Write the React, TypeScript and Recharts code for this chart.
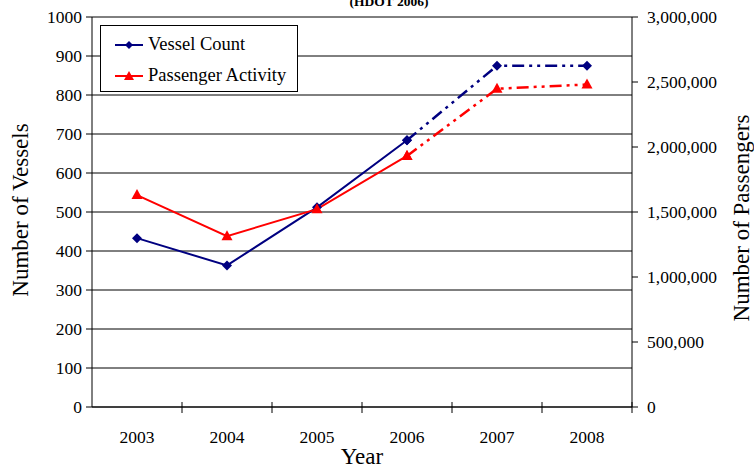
import { LineChart, Line, XAxis, YAxis, CartesianGrid } from "recharts";

const years = ["2003", "2004", "2005", "2006", "2007", "2008"];
const vesselCount = [433, 363, 512, 684, 875, 875];
const passengerActivity = [1630000, 1314000, 1522000, 1931000, 2448000, 2481000];
// last year with actual counts, later years are projections (dashed)
const lastActualYear = "2006";

const vesselTicks = [0, 100, 200, 300, 400, 500, 600, 700, 800, 900, 1000];
const passengerTicks = [0, 500000, 1000000, 1500000, 2000000, 2500000, 3000000];

const FONT = '"Liberation Serif", "Times New Roman", Times, serif';
const NAVY = "#000080";
const RED = "#FF0000";
const DASH = "12 5 3 5 3 5";

const W = 754;
const H = 468;
const TOP = 17;
const LEFT_W = 92;
const RIGHT_W = 122;
const X_H = 61;
const PLOT_BOTTOM = H - X_H;
const BAND = (W - LEFT_W - RIGHT_W) / years.length;

const lastIdx = years.indexOf(lastActualYear);
const chartData = years.map((year, i) => ({
  year,
  vessel: i <= lastIdx ? vesselCount[i] : null,
  vesselProj: i >= lastIdx ? vesselCount[i] : null,
  passenger: i <= lastIdx ? passengerActivity[i] : null,
  passengerProj: i >= lastIdx ? passengerActivity[i] : null,
}));

const legendItems = [
  { name: "Vessel Count", color: NAVY, marker: "diamond" },
  { name: "Passenger Activity", color: RED, marker: "triangle" },
];

function Diamond({ cx, cy }: any) {
  if (cx == null || cy == null) return null;
  return <path d={`M${cx} ${cy - 5}L${cx + 5} ${cy}L${cx} ${cy + 5}L${cx - 5} ${cy}Z`} fill={NAVY} />;
}

function Triangle({ cx, cy }: any) {
  if (cx == null || cy == null) return null;
  return <path d={`M${cx} ${cy - 6}L${cx + 5.5} ${cy + 4}L${cx - 5.5} ${cy + 4}Z`} fill={RED} />;
}

function YearTick({ x, payload }: any) {
  return (
    <g>
      <line x1={x + BAND / 2} x2={x + BAND / 2} y1={PLOT_BOTTOM - 5} y2={PLOT_BOTTOM + 6} stroke="#000" />
      <text x={x} y={443} textAnchor="middle" style={{ fontFamily: FONT, fontSize: 17.5 }} fill="#000">
        {payload.value}
      </text>
    </g>
  );
}

function ValueTick({ x, y, payload, anchor, fmt }: any) {
  return (
    <text
      x={x}
      y={y}
      dy="0.33em"
      textAnchor={anchor}
      style={{ fontFamily: FONT, fontSize: 17.5 }}
      fill="#000"
    >
      {fmt ? fmt(payload.value) : payload.value}
    </text>
  );
}

function AxisTitle({ x, y, angle, text }: { x: number; y: number; angle: number; text: string }) {
  return (
    <text
      x={x}
      y={y}
      transform={angle ? `rotate(${angle}, ${x}, ${y})` : undefined}
      textAnchor="middle"
      style={{ fontFamily: FONT, fontSize: 23 }}
      fill="#000"
    >
      {text}
    </text>
  );
}

function LegendBox() {
  return (
    <div
      style={{
        position: "absolute",
        left: 100,
        top: 25,
        width: 198,
        height: 67,
        border: "1px solid #000",
        background: "#fff",
        boxSizing: "border-box",
        padding: "3px 0 0 14px",
        fontFamily: FONT,
        fontSize: 18.5,
        zIndex: 2,
      }}
    >
      {legendItems.map((item) => (
        <div key={item.name} style={{ display: "flex", alignItems: "center", height: 31 }}>
          <svg width={30} height={14} style={{ marginRight: 3 }}>
            <line x1={0} x2={28} y1={7} y2={7} stroke={item.color} strokeWidth={2} />
            {item.marker === "diamond" ? (
              <path d="M14 3L18 7L14 11L10 7Z" fill={item.color} />
            ) : (
              <path d="M14 2L19 11L9 11Z" fill={item.color} />
            )}
          </svg>
          <span style={{ color: "#000", fontFamily: FONT }}>{item.name}</span>
        </div>
      ))}
    </div>
  );
}

const fmtThousands = (v: number) => v.toLocaleString("en-US");

export default function App() {
  return (
    <div
      style={{
        position: "absolute",
        left: 0,
        top: 0,
        width: W,
        height: H,
        background: "#fff",
        fontFamily: FONT,
      }}
    >
      <div
        style={{
          position: "absolute",
          left: 389,
          top: -6,
          transform: "translateX(-50%)",
          fontFamily: FONT,
          fontWeight: "bold",
          fontSize: 13.5,
          whiteSpace: "nowrap",
          zIndex: 2,
        }}
      >
        (HDOT 2006)
      </div>
      <LegendBox />
      <LineChart
        width={W}
        height={H}
        data={chartData}
        margin={{ top: TOP, right: 0, bottom: 0, left: 0 }}
        style={{ fontFamily: FONT }}
      >
        <CartesianGrid yAxisId="left" vertical={false} stroke="#000" />
        <XAxis
          dataKey="year"
          height={X_H}
          padding={{ left: BAND / 2, right: BAND / 2 }}
          tick={<YearTick />}
          tickLine={false}
          axisLine={{ stroke: "#000" }}
          interval={0}
          label={{ content: () => <AxisTitle x={362} y={464} angle={0} text="Year" /> }}
        />
        <YAxis
          yAxisId="left"
          width={LEFT_W}
          domain={[0, 1000]}
          ticks={vesselTicks}
          interval={0}
          tickSize={6}
          tickMargin={4}
          tick={<ValueTick anchor="end" />}
          tickLine={{ stroke: "#000" }}
          axisLine={{ stroke: "#000" }}
          label={{ content: () => <AxisTitle x={28} y={210} angle={-90} text="Number of Vessels" /> }}
        />
        <YAxis
          yAxisId="right"
          orientation="right"
          width={RIGHT_W}
          domain={[0, 3000000]}
          ticks={passengerTicks}
          interval={0}
          tickSize={6}
          tickMargin={9}
          tick={<ValueTick anchor="start" fmt={fmtThousands} />}
          tickLine={{ stroke: "#000" }}
          axisLine={{ stroke: "#000" }}
          label={{ content: () => <AxisTitle x={749} y={218} angle={-90} text="Number of Passengers" /> }}
        />
        <Line
          yAxisId="left"
          dataKey="vessel"
          name="Vessel Count"
          stroke={NAVY}
          strokeWidth={2}
          dot={<Diamond />}
          activeDot={false}
          isAnimationActive={false}
        />
        <Line
          yAxisId="left"
          dataKey="vesselProj"
          name="Vessel Count (projected)"
          stroke={NAVY}
          strokeWidth={2.5}
          strokeDasharray={DASH}
          dot={<Diamond />}
          activeDot={false}
          isAnimationActive={false}
        />
        <Line
          yAxisId="right"
          dataKey="passenger"
          name="Passenger Activity"
          stroke={RED}
          strokeWidth={2}
          dot={<Triangle />}
          activeDot={false}
          isAnimationActive={false}
        />
        <Line
          yAxisId="right"
          dataKey="passengerProj"
          name="Passenger Activity (projected)"
          stroke={RED}
          strokeWidth={2.5}
          strokeDasharray={DASH}
          dot={<Triangle />}
          activeDot={false}
          isAnimationActive={false}
        />
      </LineChart>
    </div>
  );
}
